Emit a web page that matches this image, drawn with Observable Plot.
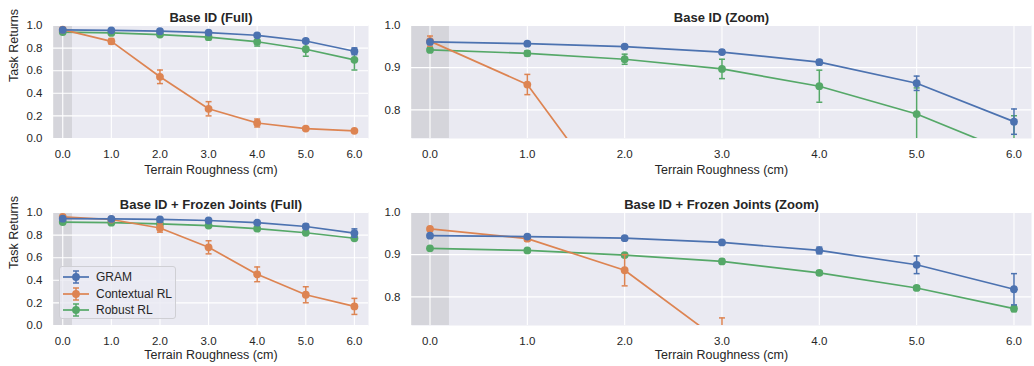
<!DOCTYPE html>
<html>
<head>
<meta charset="utf-8">
<script src="https://cdn.jsdelivr.net/npm/d3@7"></script>
<script src="https://cdn.jsdelivr.net/npm/@observablehq/plot@0.6"></script>
<style>
  html, body { margin: 0; padding: 0; background: white; }
  #root { position: relative; width: 1034px; height: 366px; overflow: hidden;
          font-family: "Liberation Sans", Arial, sans-serif; color: #262626; }
  .panel { position: absolute; }
  #legend { position: absolute; left: 59px; top: 266px; width: 117px; height: 53px;
            background: rgba(234,234,242,0.8); border: 1px solid #cfcfd4; border-radius: 3px;
            font-size: 12px; padding-top: 2px; box-sizing: border-box; white-space: nowrap; }
  #legend .row { display: flex; align-items: center; height: 16.5px; white-space: nowrap; }
  #legend svg { margin-left: 2px; margin-right: 6px; flex: none; }
  #legend span { flex: none; white-space: nowrap; }
</style>
</head>
<body>
<div id="root"></div>
<script>
// ---- data ----
const roughness = [0, 1, 2, 3, 4, 5, 6];
const seriesNames = ["GRAM", "Contextual RL", "Robust RL"];
const seriesColors = ["#4c72b0", "#dd8452", "#55a868"];
const drawOrder = ["Robust RL", "Contextual RL", "GRAM"];

// Base ID
const baseGram    = [0.961, 0.957, 0.950, 0.937, 0.913, 0.863, 0.772];
const baseGramErr = [0.004, 0.004, 0.004, 0.005, 0.006, 0.017, 0.030];
const baseCtx     = [0.963, 0.860, 0.546, 0.263, 0.137, 0.088, 0.068];
const baseCtxErr  = [0.012, 0.024, 0.060, 0.063, 0.035, 0.012, 0.008];
const baseRob     = [0.942, 0.934, 0.920, 0.897, 0.856, 0.790, 0.696];
const baseRobErr  = [0.005, 0.006, 0.012, 0.023, 0.038, 0.062, 0.090];

// Base ID + Frozen Joints
const frzGram    = [0.945, 0.943, 0.939, 0.929, 0.910, 0.876, 0.818];
const frzGramErr = [0.004, 0.004, 0.004, 0.004, 0.008, 0.021, 0.037];
const frzCtx     = [0.961, 0.938, 0.863, 0.692, 0.453, 0.272, 0.169];
const frzCtxErr  = [0.004, 0.006, 0.037, 0.058, 0.065, 0.071, 0.071];
const frzRob     = [0.915, 0.910, 0.899, 0.884, 0.857, 0.821, 0.772];
const frzRobErr  = [0.004, 0.004, 0.004, 0.005, 0.005, 0.005, 0.007];

const fullTicks = [0, 0.2, 0.4, 0.6, 0.8, 1.0];
const zoomTicks = [0.8, 0.9, 1.0];
const shadedRange = [{x1: -0.2, x2: 0.2}];

const xLabel = "Terrain Roughness (cm)";
const yLabel = "Task Returns";

// ---- build tables ----
function table(gram, gramErr, ctx, ctxErr, rob, robErr) {
  const rows = [];
  const src = {"GRAM": [gram, gramErr], "Contextual RL": [ctx, ctxErr], "Robust RL": [rob, robErr]};
  for (const s of seriesNames) {
    roughness.forEach((x, i) => rows.push({series: s, x, y: src[s][0][i], err: src[s][1][i]}));
  }
  return rows;
}
const baseData = table(baseGram, baseGramErr, baseCtx, baseCtxErr, baseRob, baseRobErr);
const frzData = table(frzGram, frzGramErr, frzCtx, frzCtxErr, frzRob, frzRobErr);

const capSymbol = { draw(ctx) { ctx.moveTo(-3, 0); ctx.lineTo(3, 0); } };
const fmt1 = d3.format(".1f");

function makePanel({title, data, yDomain, yTicks, xDomain, width, height, mt, mb, ml, mr, showYLabel, xLabelDy}) {
  const marks = [
    Plot.frame({fill: "#eaeaf2", stroke: null}),
    Plot.rect(shadedRange, {x1: "x1", x2: "x2", fill: "#808080", fillOpacity: 0.2, clip: true}),
    Plot.ruleX(roughness, {stroke: "white", strokeWidth: 1.1}),
    Plot.ruleY(yTicks, {stroke: "white", strokeWidth: 1.1}),
  ];
  for (const s of drawOrder) {
    const d = data.filter(r => r.series === s);
    marks.push(
      Plot.line(d, {x: "x", y: "y", stroke: "series", strokeWidth: 1.7, clip: true}),
      Plot.ruleX(d, {x: "x", y1: r => r.y - r.err, y2: r => r.y + r.err, stroke: "series", strokeWidth: 1.5, clip: true}),
      Plot.dot(d, {x: "x", y: r => r.y + r.err, symbol: capSymbol, r: 3, fill: "none", stroke: "series", strokeWidth: 1.5, clip: true}),
      Plot.dot(d, {x: "x", y: r => r.y - r.err, symbol: capSymbol, r: 3, fill: "none", stroke: "series", strokeWidth: 1.5, clip: true}),
      Plot.dot(d, {x: "x", y: "y", fill: "series", r: 3.9, clip: true})
    );
  }
  marks.push(
    Plot.text([title], {text: d => d, frameAnchor: "top", dy: -13, fontSize: 13, fontWeight: "bold", fill: "#262626"}),
    Plot.text([xLabel], {text: d => d, frameAnchor: "bottom", dy: xLabelDy, fontSize: 12.5, fill: "#262626"})
  );
  if (showYLabel) {
    marks.push(Plot.text([yLabel], {text: d => d, frameAnchor: "left", dx: -40, rotate: -90, fontSize: 12.5, fill: "#262626"}));
  }
  return Plot.plot({
    width, height,
    marginTop: mt, marginBottom: mb, marginLeft: ml, marginRight: mr,
    style: {background: "transparent", fontFamily: "'Liberation Sans', Arial, sans-serif", fontSize: "11.5px", color: "#262626", overflow: "visible"},
    x: {domain: xDomain, ticks: roughness, tickFormat: fmt1, tickSize: 0, tickPadding: 11, label: null},
    y: {domain: yDomain, ticks: yTicks, tickFormat: fmt1, tickSize: 0, tickPadding: 11, label: null},
    color: {domain: seriesNames, range: seriesColors},
    marks
  });
}

const root = document.getElementById("root");
function place(node, left, top) {
  const div = document.createElement("div");
  div.className = "panel";
  div.style.left = left + "px";
  div.style.top = top + "px";
  div.appendChild(node);
  root.appendChild(div);
}

const fullX = [-0.19, 6.29];
const zoomX = [-0.19, 6.18];

place(makePanel({title: "Base ID (Full)", data: baseData, yDomain: [0, 1], yTicks: fullTicks, xDomain: fullX,
  width: 372, height: 183, mt: 25, mb: 45, ml: 53, mr: 4, showYLabel: true, xLabelDy: 35}), 0, 0);
place(makePanel({title: "Base ID (Zoom)", data: baseData, yDomain: [0.732, 1], yTicks: zoomTicks, xDomain: zoomX,
  width: 662, height: 183, mt: 25, mb: 45, ml: 39, mr: 3, showYLabel: false, xLabelDy: 35}), 372, 0);
place(makePanel({title: "Base ID + Frozen Joints (Full)", data: frzData, yDomain: [0, 1], yTicks: fullTicks, xDomain: fullX,
  width: 372, height: 183, mt: 29, mb: 41, ml: 53, mr: 4, showYLabel: true, xLabelDy: 33}), 0, 183);
place(makePanel({title: "Base ID + Frozen Joints (Zoom)", data: frzData, yDomain: [0.732, 1], yTicks: zoomTicks, xDomain: zoomX,
  width: 662, height: 183, mt: 29, mb: 41, ml: 39, mr: 3, showYLabel: false, xLabelDy: 33}), 372, 183);

// legend (HTML)
const legend = document.createElement("div");
legend.id = "legend";
seriesNames.forEach((name, i) => {
  const c = seriesColors[i];
  const row = document.createElement("div");
  row.className = "row";
  row.innerHTML = `<svg width="28" height="14"><line x1="1" x2="27" y1="7" y2="7" stroke="${c}" stroke-width="1.7"/>` +
    `<line x1="14" x2="14" y1="1" y2="13" stroke="${c}" stroke-width="1.5"/>` +
    `<line x1="11" x2="17" y1="1" y2="1" stroke="${c}" stroke-width="1.5"/>` +
    `<line x1="11" x2="17" y1="13" y2="13" stroke="${c}" stroke-width="1.5"/>` +
    `<circle cx="14" cy="7" r="3.9" fill="${c}"/></svg><span>${name}</span>`;
  legend.appendChild(row);
});
root.appendChild(legend);
</script>
</body>
</html>
